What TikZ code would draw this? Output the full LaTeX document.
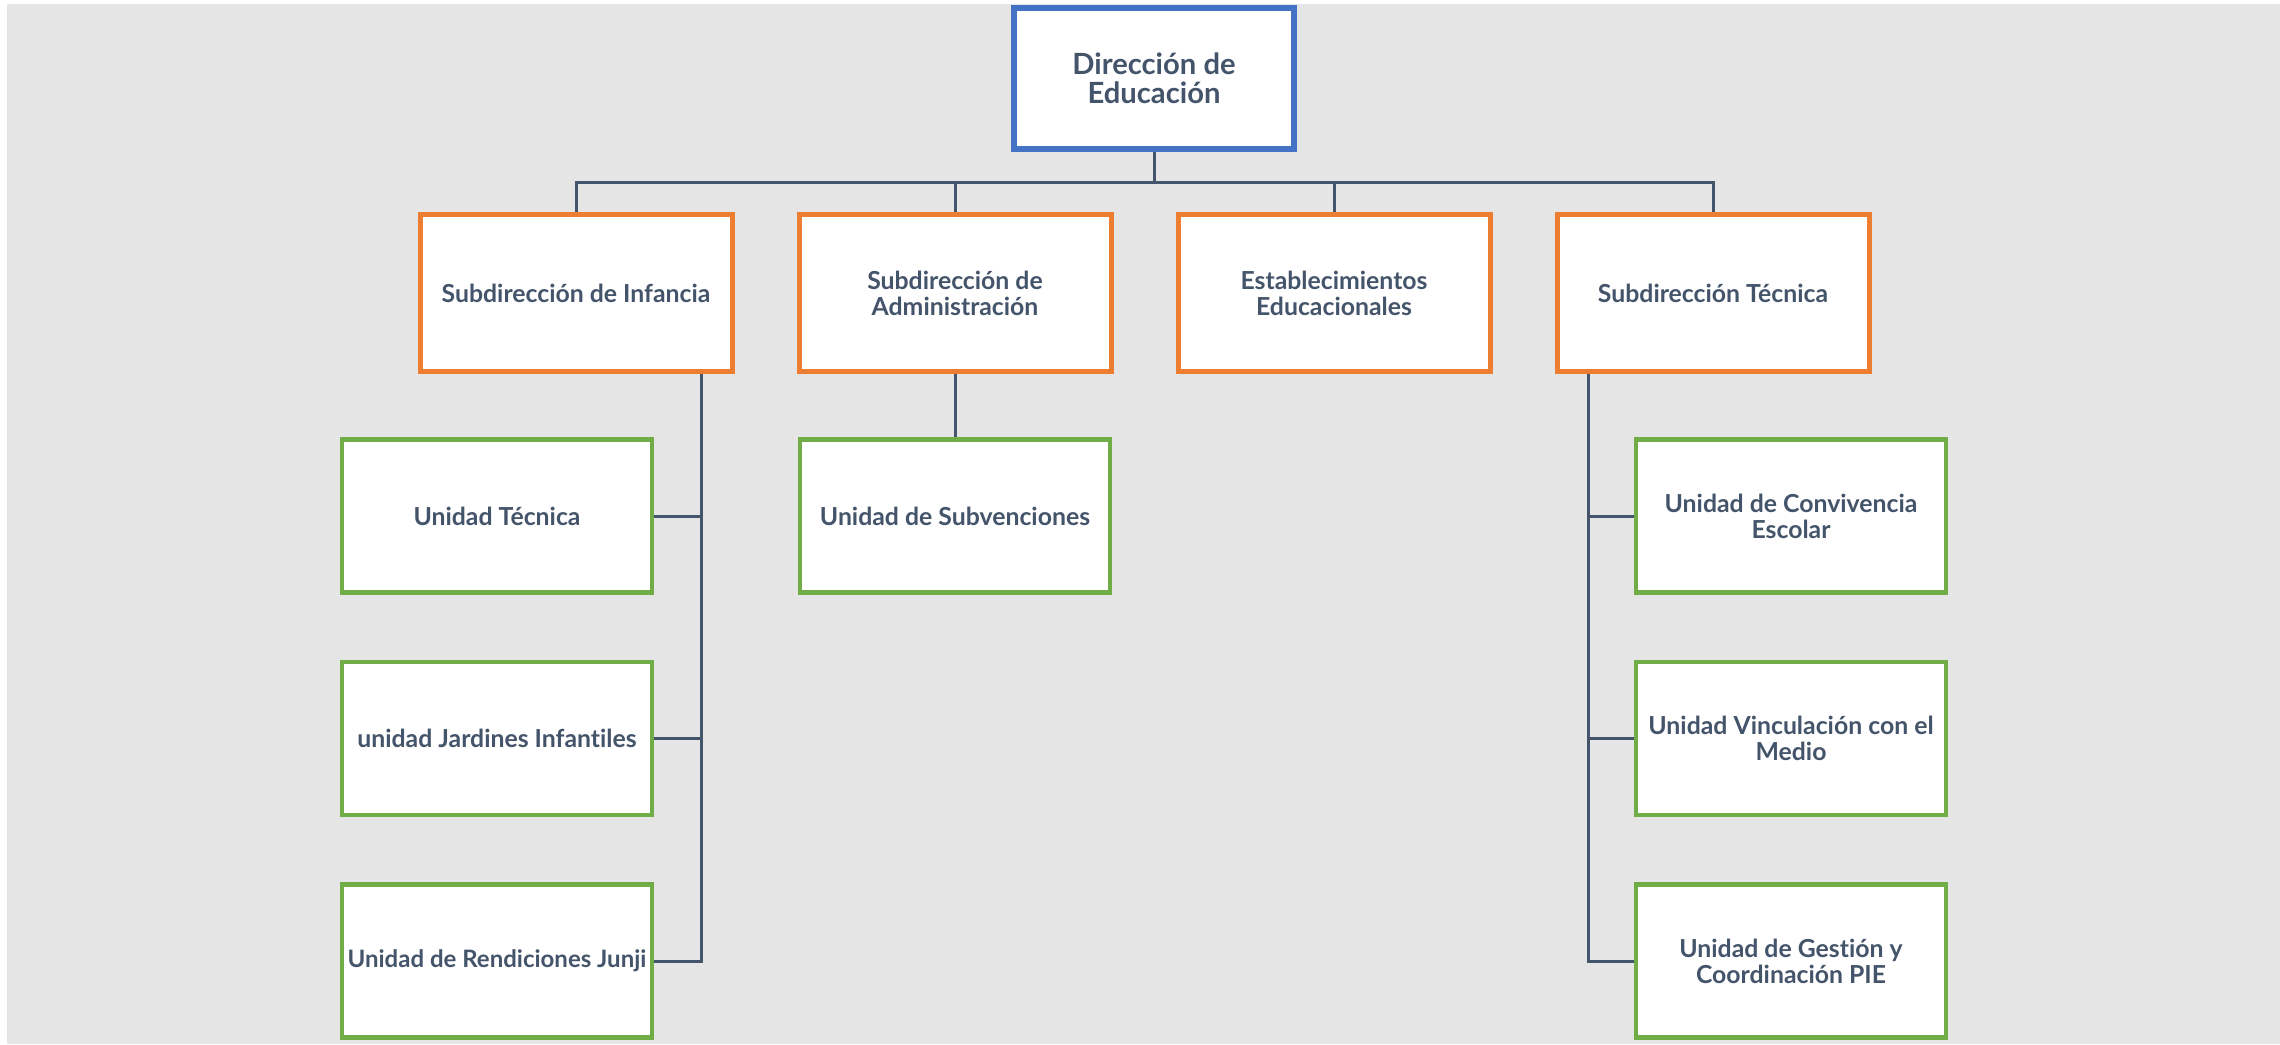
\documentclass[tikz,border=0pt]{standalone}
\usepackage{fontspec}
\setmainfont{Lato}[Ligatures=NoCommon]
\usetikzlibrary{positioning}
\definecolor{bgGray}{HTML}{E5E5E5}
\definecolor{txtSlate}{HTML}{44546A}
\definecolor{boxBlue}{HTML}{4472C4}
\definecolor{boxOrange}{HTML}{ED7D31}
\definecolor{boxGreen}{HTML}{70AD47}
\pgfdeclarelayer{bg}
\pgfsetlayers{bg,main}
\tikzset{
  unit/.style={draw, fill=white, align=center, text=txtSlate, inner sep=0pt,
    font=\bfseries\fontsize{12.4}{13}\selectfont},
  direccion/.style={unit, draw=boxBlue, line width=3pt, minimum width=140pt,
    minimum height=70.5pt, font=\bfseries\fontsize{14.6}{14.5}\selectfont},
  subdir/.style={unit, draw=boxOrange, line width=2.5pt, minimum width=156pt, minimum height=78.5pt},
  unidad/.style={unit, draw=boxGreen, line width=2.2pt, minimum width=155pt, minimum height=76.5pt},
  link/.style={draw=txtSlate, line width=1.5pt}
}

\begin{document}
\begin{tikzpicture}[x=0.5pt, y=-0.5pt]
    \useasboundingbox (0,0) rectangle (2280,1044);

    % Boxes
    \node[direccion] (dir) at (1154,78.5) {Dirección de\\Educación};
    \node[subdir] (infancia) at (576,293) {Subdirección de Infancia};
    \node[subdir] (admin) at (955,293) {Subdirección de\\Administración};
    \node[subdir] (estab) at (1334,293) {Establecimientos\\Educacionales};
    \node[subdir] (tecnica) at (1713,293) {Subdirección Técnica};
    \node[unidad] (uTecnica) at (497,516) {Unidad Técnica};
    \node[unidad] (uJardines) at (497,738.5) {unidad Jardines Infantiles};
    \node[unidad, font=\bfseries\fontsize{12}{13}\selectfont] (uJunji) at (497,961) {Unidad de Rendiciones Junji};
    \node[unidad] (uSubv) at (955,516) {Unidad de Subvenciones};
    \node[unidad] (uConv) at (1791,516) {Unidad de Convivencia\\Escolar};
    \node[unidad] (uVinc) at (1791,738.5) {Unidad Vinculación con el\\Medio};
    \node[unidad] (uPIE) at (1791,961) {Unidad de Gestión y\\Coordinación PIE};

    \coordinate (bus) at (0,182);
    \coordinate (lTrunk) at (701,0);
    \coordinate (rTrunk) at (1588,0);

    % Lines
    \begin{pgfonlayer}{bg}
        \fill[bgGray] (7,4) rectangle (2280,1044);
        \foreach \s in {infancia,admin,estab,tecnica}
            \draw[link] (dir.south) |- (bus -| \s.north) -- (\s.north);
        \draw[link] (admin.south) -- (uSubv.north);
        \draw[link] (infancia.south -| lTrunk) |- (uJunji.east);
        \foreach \u in {uTecnica,uJardines}
            \draw[link] (\u.east) -- (\u.east -| lTrunk);
        \draw[link] (tecnica.south -| rTrunk) |- (uPIE.west);
        \foreach \u in {uConv,uVinc}
            \draw[link] (\u.west) -- (\u.west -| rTrunk);
    \end{pgfonlayer}
\end{tikzpicture}
\end{document}
